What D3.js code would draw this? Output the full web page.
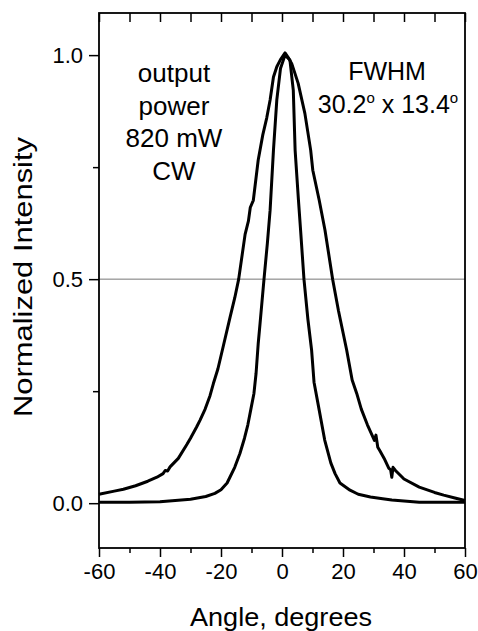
<!DOCTYPE html>
<html><head><meta charset="utf-8">
<script src="https://cdn.jsdelivr.net/npm/d3@7"></script>
<style>body{margin:0;background:#fff}svg{display:block}text{font-family:"Liberation Sans",Arial,sans-serif;fill:#000}</style>
</head><body>
<svg id="c" width="478" height="631"></svg>
<script>
// Data
const wideAngle = [-60,-55,-52,-48,-44,-41,-39,-38.3,-37.5,-36.7,-34,-31.2,-30,-28,-26.9,-25.2,-23.6,-22.5,-21,-19.2,-17,-15.5,-14.2,-12.1,-11,-10.4,-9.4,-7.8,-6.3,-5,-3.9,-2.8,-1.7,-0.5,1,2,3.2,5.3,7.5,9.4,10.1,12.2,14.1,16.6,18.5,21.2,23,24.5,26,28,30.3,30.8,31.4,32,33.5,35,35.6,36,36.4,37.2,40,45,50,53,57,60];
const wideValue = [0.02,0.027,0.031,0.039,0.049,0.058,0.066,0.073,0.072,0.081,0.1,0.131,0.145,0.17,0.185,0.21,0.24,0.267,0.3,0.352,0.416,0.458,0.5,0.6,0.63,0.66,0.676,0.766,0.822,0.86,0.9,0.951,0.974,0.99,1.005,0.995,0.981,0.937,0.87,0.788,0.743,0.676,0.609,0.5,0.43,0.342,0.275,0.245,0.21,0.175,0.14,0.152,0.125,0.118,0.1,0.078,0.075,0.058,0.08,0.073,0.054,0.036,0.024,0.018,0.011,0.006];
const narrowAngle = [-60,-50,-40,-35,-30,-25,-22,-20,-18,-17,-15.5,-13.8,-12.3,-11.2,-10.2,-9.2,-8.5,-7.8,-7.2,-5.9,-4.8,-3.9,-2.8,-1.7,-0.5,1,2.6,3.7,4.3,5.4,6.1,7.2,8.5,9.7,10.5,12,14,16,17.4,19,22.3,25,29,33,36,45,60];
const narrowValue = [0.002,0.002,0.003,0.006,0.009,0.015,0.022,0.03,0.045,0.059,0.08,0.111,0.145,0.175,0.21,0.245,0.29,0.356,0.401,0.5,0.58,0.654,0.788,0.9,0.97,1.0,0.989,0.922,0.788,0.676,0.609,0.5,0.41,0.342,0.27,0.215,0.141,0.09,0.066,0.045,0.029,0.02,0.014,0.01,0.007,0.002,0.002];
const xTicks = [-60,-40,-20,0,20,40,60];
const xMinor = [-50,-30,-10,10,30,50];
const yTicks = [0.0,0.5,1.0];
const yMinor = [0.25,0.75];
const halfLevel = [0.5];

const svg = d3.select("#c");
const L=99,R=465,T=13,B=548;
const x = d3.scaleLinear().domain([-60,60]).range([L,R]);
const y = d3.scaleLinear().domain([-0.1,1.094]).range([B,T]);

// half max line
svg.selectAll(".hl").data(halfLevel).join("line")
  .attr("x1",L).attr("x2",R).attr("y1",d=>y(d)).attr("y2",d=>y(d))
  .attr("stroke","#777").attr("stroke-width",1);

// curves
const line = d3.line().x(d=>x(d[0])).y(d=>y(d[1])).curve(d3.curveLinear);
const wide = wideAngle.map((a,i)=>[a,wideValue[i]]);
const narrow = narrowAngle.map((a,i)=>[a,narrowValue[i]]);
[wide,narrow].forEach(s=>{
  svg.append("path").attr("d",line(s)).attr("fill","none")
    .attr("stroke","#000").attr("stroke-width",3).attr("stroke-linejoin","round");
});

// bottom axis
svg.append("g").attr("transform",`translate(0,${B})`)
  .call(d3.axisBottom(x).tickValues(xTicks).tickSize(9).tickPadding(6).tickFormat(d=>String(d)));
svg.append("g").attr("transform",`translate(0,${B})`)
  .call(d3.axisBottom(x).tickValues(xMinor).tickSize(5).tickFormat(""));
// top axis (inward ticks)
svg.append("g").attr("transform",`translate(0,${T})`)
  .call(d3.axisBottom(x).tickValues(xTicks.concat(xMinor)).tickSize(9).tickFormat(""));
// left axis
svg.append("g").attr("transform",`translate(${L},0)`)
  .call(d3.axisLeft(y).tickValues(yTicks).tickSize(10).tickPadding(6).tickFormat(d=>d.toFixed(1)));
svg.append("g").attr("transform",`translate(${L},0)`)
  .call(d3.axisLeft(y).tickValues(yMinor).tickSize(6).tickFormat(""));
svg.selectAll(".domain").remove();
svg.selectAll(".tick line").attr("stroke","#000").attr("stroke-width",1.5);
svg.selectAll(".tick text").attr("font-size",22).attr("fill","#000")
  .style("font-family","'Liberation Sans',Arial,sans-serif");
// frame
svg.append("rect").attr("x",L).attr("y",T).attr("width",R-L).attr("height",B-T)
  .attr("fill","none").attr("stroke","#000").attr("stroke-width",1.8);

// axis titles
svg.append("text").attr("x",281).attr("y",626).attr("text-anchor","middle")
  .attr("font-size",26).attr("textLength",182).attr("lengthAdjust","spacingAndGlyphs").text("Angle, degrees");
svg.append("text").attr("transform","translate(32,277) rotate(-90)").attr("text-anchor","middle")
  .attr("font-size",26).attr("textLength",280).attr("lengthAdjust","spacingAndGlyphs").text("Normalized Intensity");

// annotations
const leftNote = ["output","power","820 mW","CW"];
svg.selectAll(".ln").data(leftNote).join("text")
  .attr("x",174).attr("y",(d,i)=>82+i*32.7).attr("text-anchor","middle")
  .attr("font-size",26).text(d=>d);
svg.append("text").attr("x",387).attr("y",80).attr("text-anchor","middle").attr("font-size",25).text("FWHM");
const t2 = svg.append("text").attr("x",388).attr("y",113).attr("text-anchor","middle").attr("font-size",25);
t2.append("tspan").text("30.2");
t2.append("tspan").attr("font-size",15).attr("dy",-10).text("o");
t2.append("tspan").attr("dy",10).text(" x 13.4");
t2.append("tspan").attr("font-size",15).attr("dy",-10).text("o");
</script>
</body></html>
